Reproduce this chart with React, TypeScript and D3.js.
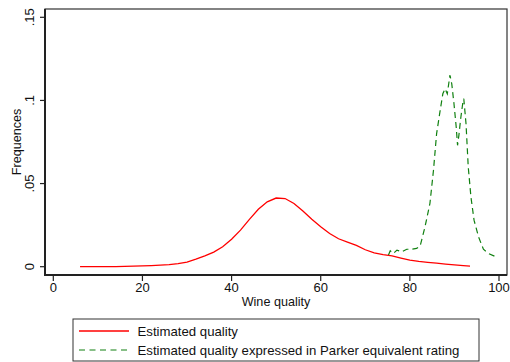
import React from "react";
import * as d3 from "d3";

const redX = [6, 10, 14, 18, 22, 26, 28, 30, 32, 34, 36, 38, 40, 42, 44, 46, 48, 50, 52, 54, 56, 58, 60, 62, 64, 66, 68, 70, 72, 74, 76, 78, 80, 82, 84, 86, 88, 90, 92, 93.5];
const redY = [0, 0, 0.0001, 0.0004, 0.0007, 0.0012, 0.0018, 0.0028, 0.0045, 0.0065, 0.0088, 0.012, 0.0165, 0.022, 0.0285, 0.0345, 0.039, 0.0413, 0.041, 0.038, 0.0335, 0.0285, 0.024, 0.02, 0.0168, 0.0148, 0.0128, 0.0102, 0.0083, 0.0073, 0.0065, 0.0052, 0.004, 0.0032, 0.0026, 0.0021, 0.0016, 0.0011, 0.0007, 0.0004];

const greenX = [75.2, 75.6, 76.3, 77.1, 78.2, 79.3, 80.4, 81.5, 82.3, 83.4, 84.5, 85.3, 86.0, 86.8, 87.4, 87.9, 88.4, 89.0, 89.4, 89.9, 90.4, 90.7, 91.0, 91.4, 91.9, 92.1, 92.6, 93.1, 93.7, 94.4, 95.4, 96.5, 97.6, 99.5];
const greenY = [0.007, 0.0096, 0.008, 0.01, 0.009, 0.0105, 0.0105, 0.011, 0.0124, 0.024, 0.038, 0.058, 0.08, 0.094, 0.104, 0.107, 0.104, 0.1153, 0.11, 0.098, 0.084, 0.073, 0.079, 0.089, 0.099, 0.101, 0.086, 0.06, 0.042, 0.028, 0.018, 0.0105, 0.008, 0.0057];

const xTicks = [0, 20, 40, 60, 80, 100];
const yTicks = [0, 0.05, 0.1, 0.15];
const yTickLabels = ["0", ".05", ".1", ".15"];
const legendLabels = ["Estimated quality", "Estimated quality expressed in Parker equivalent rating"];

const FONT = "'Liberation Sans', Arial, sans-serif";

export default function App() {
  const frame = { left: 45, right: 507, top: 9, bottom: 275 };
  const x = d3.scaleLinear().domain([0, 100]).range([53.3, 499]);
  const y = d3.scaleLinear().domain([0, 0.15]).range([266.7, 17.3]);

  const line = d3
    .line<[number, number]>()
    .x((d) => x(d[0]))
    .y((d) => y(d[1]))
    .curve(d3.curveLinear);

  const redPts = redX.map((v, i) => [v, redY[i]] as [number, number]);
  const greenPts = greenX.map((v, i) => [v, greenY[i]] as [number, number]);

  const red = "#ff0000";
  const green = "#108010";

  return (
    <svg
      width={510}
      height={362}
      style={{ position: "absolute", left: 0, top: 0, background: "#fff" }}
      fontFamily={FONT}
    >
      <rect x={0} y={0} width={510} height={362} fill="#fff" />
      <rect
        x={frame.left}
        y={frame.top}
        width={frame.right - frame.left}
        height={frame.bottom - frame.top}
        fill="none"
        stroke="#333"
        strokeWidth={1.2}
      />
      <line x1={frame.left} x2={frame.left} y1={frame.top} y2={frame.bottom + 1} stroke="#222" strokeWidth={2} />
      <line x1={frame.left - 1} x2={frame.right} y1={frame.bottom} y2={frame.bottom} stroke="#222" strokeWidth={2} />

      {yTicks.map((t, i) => (
        <g key={"y" + i}>
          <line x1={frame.left - 5} x2={frame.left} y1={y(t)} y2={y(t)} stroke="#222" strokeWidth={1.2} />
          <text
            transform={`translate(34,${y(t)}) rotate(-90)`}
            textAnchor="middle"
            fontSize={13}
            fill="#111"
          >
            {yTickLabels[i]}
          </text>
        </g>
      ))}
      {xTicks.map((t) => (
        <g key={"x" + t}>
          <line x1={x(t)} x2={x(t)} y1={frame.bottom} y2={frame.bottom + 6} stroke="#222" strokeWidth={1.2} />
          <text x={x(t)} y={292} textAnchor="middle" fontSize={13} fill="#111">
            {t}
          </text>
        </g>
      ))}

      <text transform={`translate(21,142) rotate(-90)`} textAnchor="middle" fontSize={12.6} fill="#111">
        Frequences
      </text>
      <text x={276} y={305.5} textAnchor="middle" fontSize={12.6} fill="#111">
        Wine quality
      </text>

      <path d={line(redPts) || ""} fill="none" stroke={red} strokeWidth={1.3} />
      <path d={line(greenPts) || ""} fill="none" stroke={green} strokeWidth={1.2} strokeDasharray="6,4" />

      <rect x={73} y={319} width={406} height={42} fill="#fff" stroke="#333" strokeWidth={1} />
      <line x1={79} x2={129} y1={331} y2={331} stroke={red} strokeWidth={1.3} />
      <line x1={79} x2={129} y1={350} y2={350} stroke={green} strokeWidth={1.2} strokeDasharray="6,4.5" />
      <text x={137.5} y={336} fontSize={13.2} fill="#111">
        {legendLabels[0]}
      </text>
      <text x={137.5} y={354.5} fontSize={13.2} fill="#111">
        {legendLabels[1]}
      </text>
    </svg>
  );
}
